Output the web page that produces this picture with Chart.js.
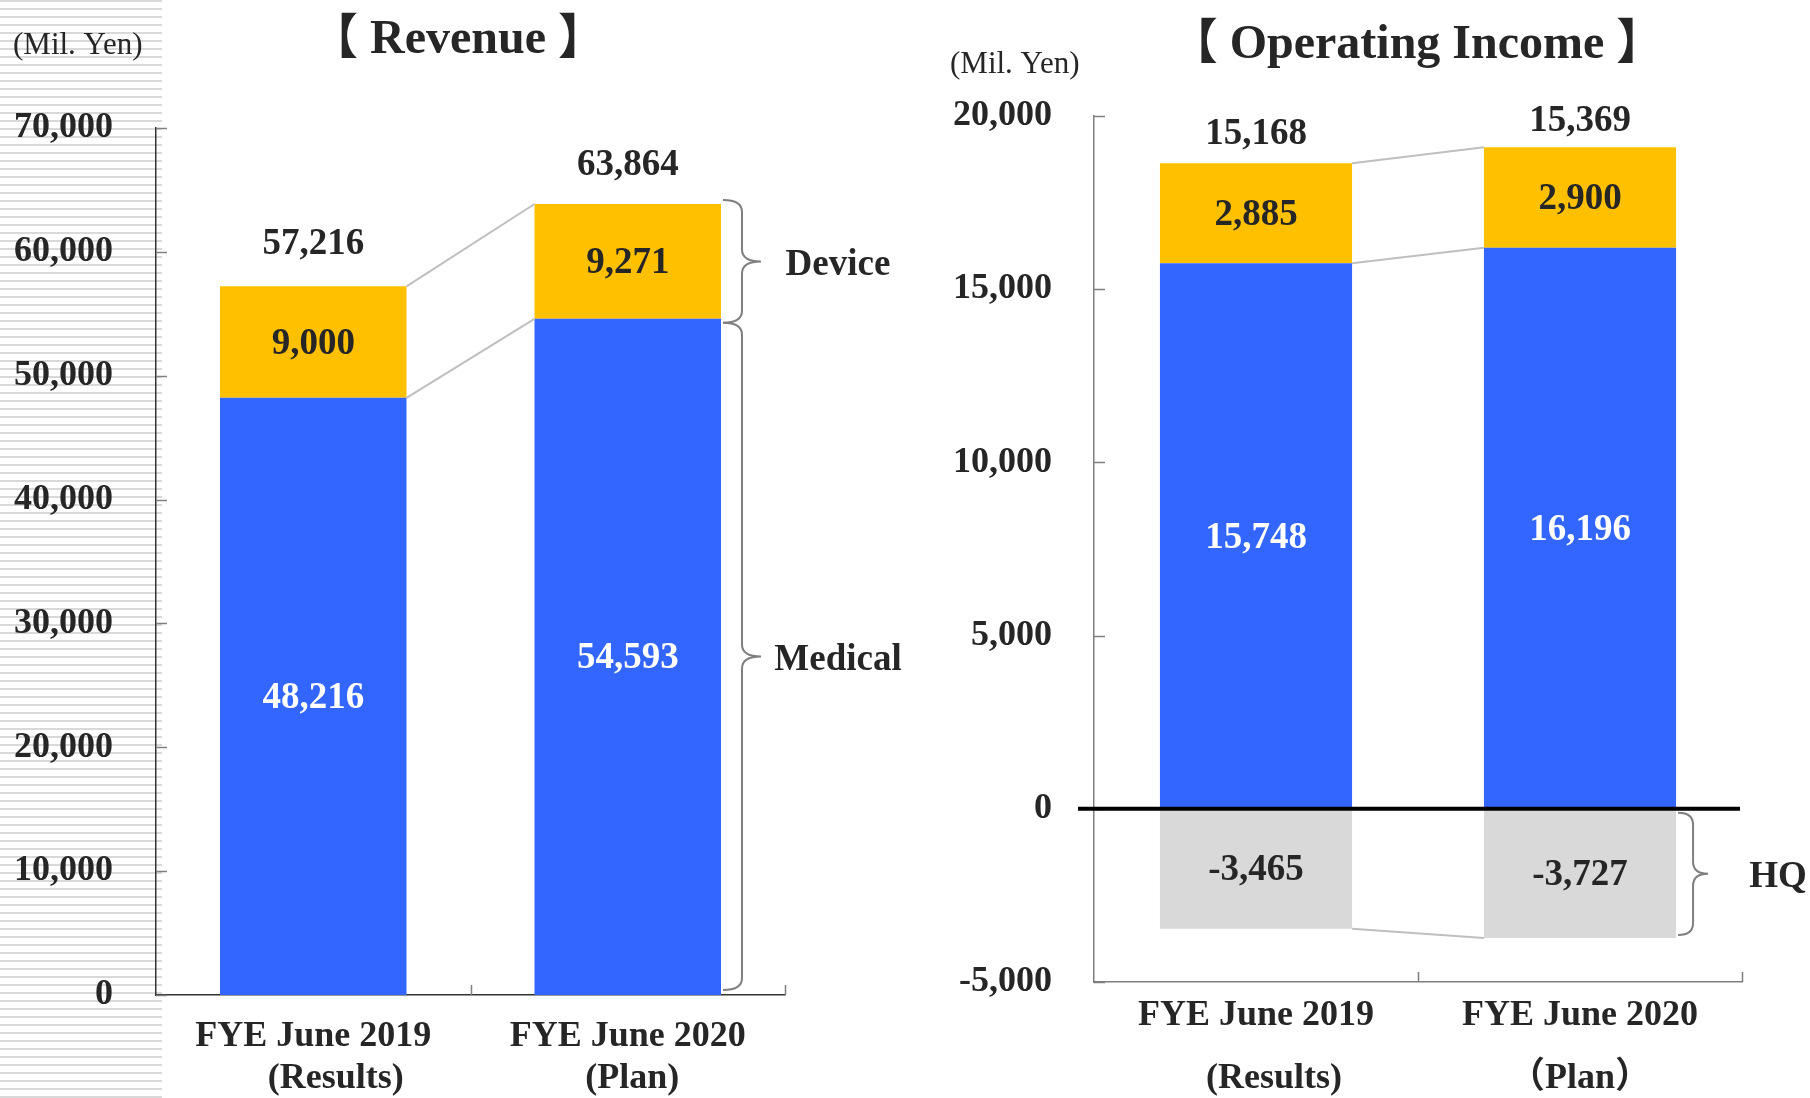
<!DOCTYPE html>
<html lang="en">
<head>
    <meta charset="UTF-8">
    <title>Revenue / Operating Income</title>
    <script src="https://cdn.jsdelivr.net/npm/chart.js"></script>
    <style>
        body {
            margin: 0;
            background: #fff;
        }
        .page {
            position: relative;
            width: 1810px;
            height: 1098px;
            overflow: hidden;
        }
        /* striped strip behind the left axis labels */
        .stripes {
            position: absolute;
            left: 0;
            top: 0;
            width: 162px;
            height: 1098px;
            background: repeating-linear-gradient(to bottom, #d9d9d9 0px, #d9d9d9 2.5px, #fff 2.5px, #fff 8px);
        }
        .chart-box {
            position: absolute;
            top: 0;
            width: 905px;
            height: 1098px;
        }
        #revenueBox { left: 0; }
        #incomeBox { left: 905px; }
    </style>
</head>
<body>
    <div class="page">
        <div class="stripes"></div>
        <div class="chart-box" id="revenueBox"><canvas id="revenueChart" width="905" height="1098"></canvas></div>
        <div class="chart-box" id="incomeBox"><canvas id="incomeChart" width="905" height="1098"></canvas></div>
    </div>

    <script>
        // ---- data ----
        const revenueCategories = [['FYE June 2019', '     (Results)'], ['FYE June 2020', ' (Plan)']];
        const incomeCategories = [['FYE June 2019', '    (Results)'], ['FYE June 2020', '（Plan）']];

        const revenueMedical = [48216, 54593];
        const revenueDevice = [9000, 9271];

        const incomeMedical = [15748, 16196];
        const incomeDevice = [2885, 2900];
        const incomeHQ = [-3465, -3727];

        const revenueTickMin = 0, revenueTickMax = 70000, revenueTickStep = 10000;
        const incomeTickMin = -5000, incomeTickMax = 20000, incomeTickStep = 5000;

        const BLUE = '#3366FF';
        const YELLOW = '#FFC000';
        const GREY = '#D9D9D9';
        const TEXT = '#262626';
        const SERIF = "'Liberation Serif', 'Times New Roman', 'Noto Sans CJK JP', serif";

        const fmt = v => Number(v).toLocaleString('en-US');

        function drawBrace(ctx, x, y1, y2, w) {
            const mid = (y1 + y2) / 2;
            const h = w / 2;
            const r = 12;
            ctx.beginPath();
            ctx.moveTo(x, y1);
            ctx.quadraticCurveTo(x + h, y1, x + h, y1 + r);
            ctx.lineTo(x + h, mid - r);
            ctx.quadraticCurveTo(x + h, mid, x + w, mid);
            ctx.quadraticCurveTo(x + h, mid, x + h, mid + r);
            ctx.lineTo(x + h, y2 - r);
            ctx.quadraticCurveTo(x + h, y2, x, y2);
            ctx.stroke();
        }

        // extra drawing: inner ticks, connectors, value labels, braces, headings
        const decorPlugin = {
            id: 'decor',
            afterDatasetsDraw(chart, args, opts) {
                const ctx = chart.ctx;
                const area = chart.chartArea;
                const xs = chart.scales.x;
                const ys = chart.scales.y;
                ctx.save();

                // tick marks pointing into the plot
                ctx.strokeStyle = opts.tickColor;
                ctx.lineWidth = 1.5;
                ys.ticks.forEach(t => {
                    const py = Math.round(ys.getPixelForValue(t.value)) + 0.5;
                    ctx.beginPath();
                    ctx.moveTo(area.left, py);
                    ctx.lineTo(area.left + 11, py);
                    ctx.stroke();
                });
                for (let i = 1; i <= xs.ticks.length; i++) {
                    const px = Math.round(xs.getPixelForValue(i - 0.5)) + 0.5;
                    ctx.beginPath();
                    ctx.moveTo(px, area.bottom);
                    ctx.lineTo(px, area.bottom - 10);
                    ctx.stroke();
                }

                // connector lines between the two bars
                const metas = chart.data.datasets.map((d, i) => chart.getDatasetMeta(i).data);
                ctx.strokeStyle = '#bfbfbf';
                ctx.lineWidth = 2;
                opts.connectors.forEach(di => {
                    const a = metas[di][0], b = metas[di][1];
                    ctx.beginPath();
                    ctx.moveTo(a.x + a.width / 2, a.y);
                    ctx.lineTo(b.x - b.width / 2, b.y);
                    ctx.stroke();
                });

                // zero line
                if (opts.zeroLine) {
                    const y0 = ys.getPixelForValue(0);
                    ctx.strokeStyle = '#000';
                    ctx.lineWidth = 4;
                    ctx.beginPath();
                    ctx.moveTo(area.left - 16, y0);
                    ctx.lineTo(area.right - 2, y0);
                    ctx.stroke();
                }

                // values inside segments
                ctx.textAlign = 'center';
                ctx.textBaseline = 'middle';
                ctx.font = 'bold 37px ' + SERIF;
                chart.data.datasets.forEach((ds, di) => {
                    ctx.fillStyle = opts.labelColors[di];
                    metas[di].forEach((el, i) => {
                        ctx.fillText(fmt(ds.data[i]), el.x, (el.y + el.base) / 2 + 2);
                    });
                });

                // totals above bars
                ctx.fillStyle = TEXT;
                chart.data.labels.forEach((lab, i) => {
                    let total = 0, top = Infinity;
                    chart.data.datasets.forEach((ds, di) => {
                        total += ds.data[i];
                        top = Math.min(top, metas[di][i].y);
                    });
                    ctx.fillText(fmt(total), metas[0][i].x, top - opts.totalOffset[i]);
                });

                // braces with segment names
                ctx.strokeStyle = '#7f7f7f';
                ctx.lineWidth = 2;
                opts.braces.forEach(b => {
                    const el = metas[b.dataset][1];
                    const y1 = Math.min(el.y, el.base) + b.inset[0];
                    const y2 = Math.max(el.y, el.base) + b.inset[1];
                    const x = el.x + el.width / 2 + 2;
                    drawBrace(ctx, x, y1, y2, b.width);
                    ctx.fillStyle = TEXT;
                    ctx.fillText(b.label, b.labelX, (y1 + y2) / 2 + 4);
                });

                // heading and unit
                ctx.font = 'bold 48px ' + SERIF;
                ctx.fillText(opts.title.text, opts.title.x, opts.title.y);
                ctx.font = '31px ' + SERIF;
                ctx.textAlign = 'left';
                ctx.fillText('(Mil. Yen)', opts.unit.x, opts.unit.y);

                ctx.restore();
            }
        };

        function makeOptions(cfg) {
            return {
                responsive: false,
                animation: false,
                layout: { padding: cfg.padding },
                plugins: {
                    legend: { display: false },
                    tooltip: { enabled: false },
                    decor: cfg.decor
                },
                scales: {
                    x: {
                        stacked: true,
                        grid: { display: false, drawTicks: false },
                        border: { display: true, color: cfg.axisColor, width: 1.5 },
                        ticks: {
                            color: TEXT,
                            padding: cfg.xPadding,
                            font: { family: SERIF, size: 36, weight: 'bold', lineHeight: cfg.xLineHeight }
                        },
                        afterFit: s => { s.height = cfg.xHeight; }
                    },
                    y: {
                        stacked: true,
                        min: cfg.min,
                        max: cfg.max,
                        grid: { display: false, drawTicks: false },
                        border: { display: true, color: cfg.axisColor, width: 1.5 },
                        ticks: {
                            stepSize: cfg.step,
                            color: TEXT,
                            padding: cfg.yPadding,
                            font: { family: SERIF, size: 36, weight: 'bold' },
                            callback: v => fmt(v)
                        },
                        afterFit: s => { s.width = cfg.yWidth; }
                    }
                }
            };
        }

        const barStyle = { barPercentage: 0.593, categoryPercentage: 1.0, borderWidth: 0 };

        new Chart(document.getElementById('revenueChart'), {
            type: 'bar',
            data: {
                labels: revenueCategories,
                datasets: [
                    Object.assign({ label: 'Medical', data: revenueMedical, backgroundColor: BLUE }, barStyle),
                    Object.assign({ label: 'Device', data: revenueDevice, backgroundColor: YELLOW }, barStyle)
                ]
            },
            options: makeOptions({
                padding: { top: 128, right: 120, left: 0, bottom: 0 },
                axisColor: '#333333',
                min: revenueTickMin, max: revenueTickMax, step: revenueTickStep,
                yWidth: 156, yPadding: 43,
                xHeight: 103, xPadding: 21, xLineHeight: 42 / 36,
                decor: {
                    tickColor: '#7f7f7f',
                    connectors: [0, 1],
                    labelColors: ['#ffffff', TEXT],
                    totalOffset: [42, 39],
                    zeroLine: false,
                    braces: [
                        { dataset: 1, label: 'Device', labelX: 838, width: 38, inset: [-4, 4] },
                        { dataset: 0, label: 'Medical', labelX: 838, width: 38, inset: [4, -5] }
                    ],
                    title: { text: '【 Revenue 】', x: 458, y: 41 },
                    unit: { x: 13, y: 46 }
                }
            }),
            plugins: [decorPlugin]
        });

        new Chart(document.getElementById('incomeChart'), {
            type: 'bar',
            data: {
                labels: incomeCategories,
                datasets: [
                    Object.assign({ label: 'Medical', data: incomeMedical, backgroundColor: BLUE }, barStyle),
                    Object.assign({ label: 'Device', data: incomeDevice, backgroundColor: YELLOW }, barStyle),
                    Object.assign({ label: 'HQ', data: incomeHQ, backgroundColor: GREY }, barStyle)
                ]
            },
            options: makeOptions({
                padding: { top: 116, right: 68, left: 0, bottom: 0 },
                axisColor: '#7f7f7f',
                min: incomeTickMin, max: incomeTickMax, step: incomeTickStep,
                yWidth: 189, yPadding: 42,
                xHeight: 116, xPadding: 2.5, xLineHeight: 63 / 36,
                decor: {
                    tickColor: '#7f7f7f',
                    connectors: [0, 1, 2],
                    labelColors: ['#ffffff', TEXT, TEXT],
                    totalOffset: [29, 26],
                    zeroLine: true,
                    braces: [
                        { dataset: 2, label: 'HQ', labelX: 873, width: 30, inset: [4, -3] }
                    ],
                    title: { text: '【 Operating Income 】', x: 512, y: 46 },
                    unit: { x: 45, y: 65 }
                }
            }),
            plugins: [decorPlugin]
        });
    </script>
</body>
</html>
